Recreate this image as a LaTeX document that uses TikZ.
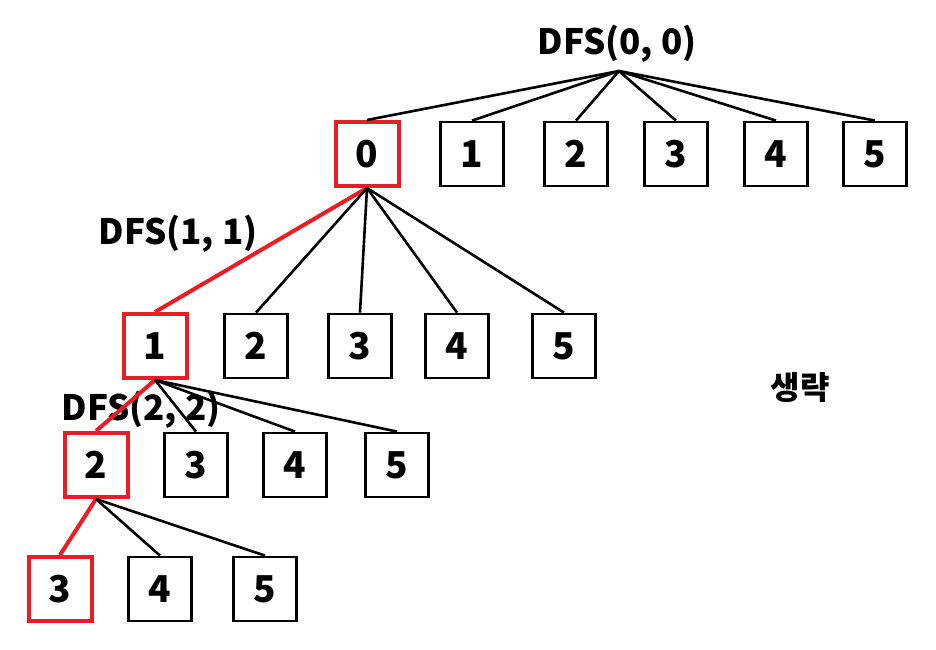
\documentclass[tikz,border=0pt]{standalone}
\usepackage{fontspec}
\setmainfont{Noto Sans CJK KR}
\newfontfamily\kofont{Noto Sans CJK KR}
\definecolor{pred}{RGB}{237,28,36}

\begin{document}
\begin{tikzpicture}[
    x=1pt, y=-1pt,
    box/.style={draw, line width=2.8pt, minimum width=63pt, minimum height=64pt,
                inner sep=0pt, font=\fontsize{37}{42}\selectfont\bfseries},
    sel/.style={box, draw=pred, line width=4pt},
    edge/.style={line width=2.6pt},
    hot/.style={line width=4pt, pred},
    call/.style={font=\fontsize{35}{40}\selectfont\bfseries},
]
\useasboundingbox (0,0) rectangle (936,649);

% First level: DFS(0, 0)
\node[call] (L0) at (617, 44) {DFS(0, 0)};
\coordinate (top) at (619, 71);
\node[sel] (a0) at (367, 154) {0};
\node[box] (a1) at (472, 154) {1};
\node[box] (a2) at (576, 154) {2};
\node[box] (a3) at (676, 154) {3};
\node[box] (a4) at (776, 154) {4};
\node[box] (a5) at (875, 154) {5};

% Second level: DFS(1, 1)
\node[call] (L1) at (178, 234) {DFS(1, 1)};
\node[sel] (b1) at (155, 346) {1};
\node[box] (b2) at (256, 346) {2};
\node[box] (b3) at (360, 346) {3};
\node[box] (b4) at (457, 346) {4};
\node[box] (b5) at (564, 346) {5};

% Third level: DFS(2, 2)
\node[call] (L2) at (141, 410) {DFS(2, 2)};
\node[sel] (c2) at (96, 465) {2};
\node[box] (c3) at (196, 465) {3};
\node[box] (c4) at (295, 465) {4};
\node[box] (c5) at (397, 465) {5};

% Fourth level
\node[sel] (d3) at (60, 589) {3};
\node[box] (d4) at (160, 589) {4};
\node[box] (d5) at (265, 589) {5};

% Omitted part
\node[font=\kofont\fontsize{32}{36}\selectfont\bfseries] (skip) at (800, 388) {생략};

% Branches
\draw[edge] (top) -- (a0.north);
\draw[edge] (top) -- (a1.north);
\draw[edge] (top) -- (a2.north);
\draw[edge] (top) -- (a3.north);
\draw[edge] (top) -- (a4.north);
\draw[edge] (top) -- (a5.north);

\draw[hot] (a0.south) -- (b1.north);
\draw[edge] (a0.south) -- (b2.north);
\draw[edge] (a0.south) -- (b3.north);
\draw[edge] (a0.south) -- (b4.north);
\draw[edge] (a0.south) -- (b5.north);

\draw[hot] (b1.south) -- (c2.north);
\draw[edge] (b1.south) -- (c3.north);
\draw[edge] (b1.south) -- (c4.north);
\draw[edge] (b1.south) -- (c5.north);

\draw[hot] (c2.south) -- (d3.north);
\draw[edge] (c2.south) -- (d4.north);
\draw[edge] (c2.south) -- (d5.north);

\end{tikzpicture}
\end{document}
